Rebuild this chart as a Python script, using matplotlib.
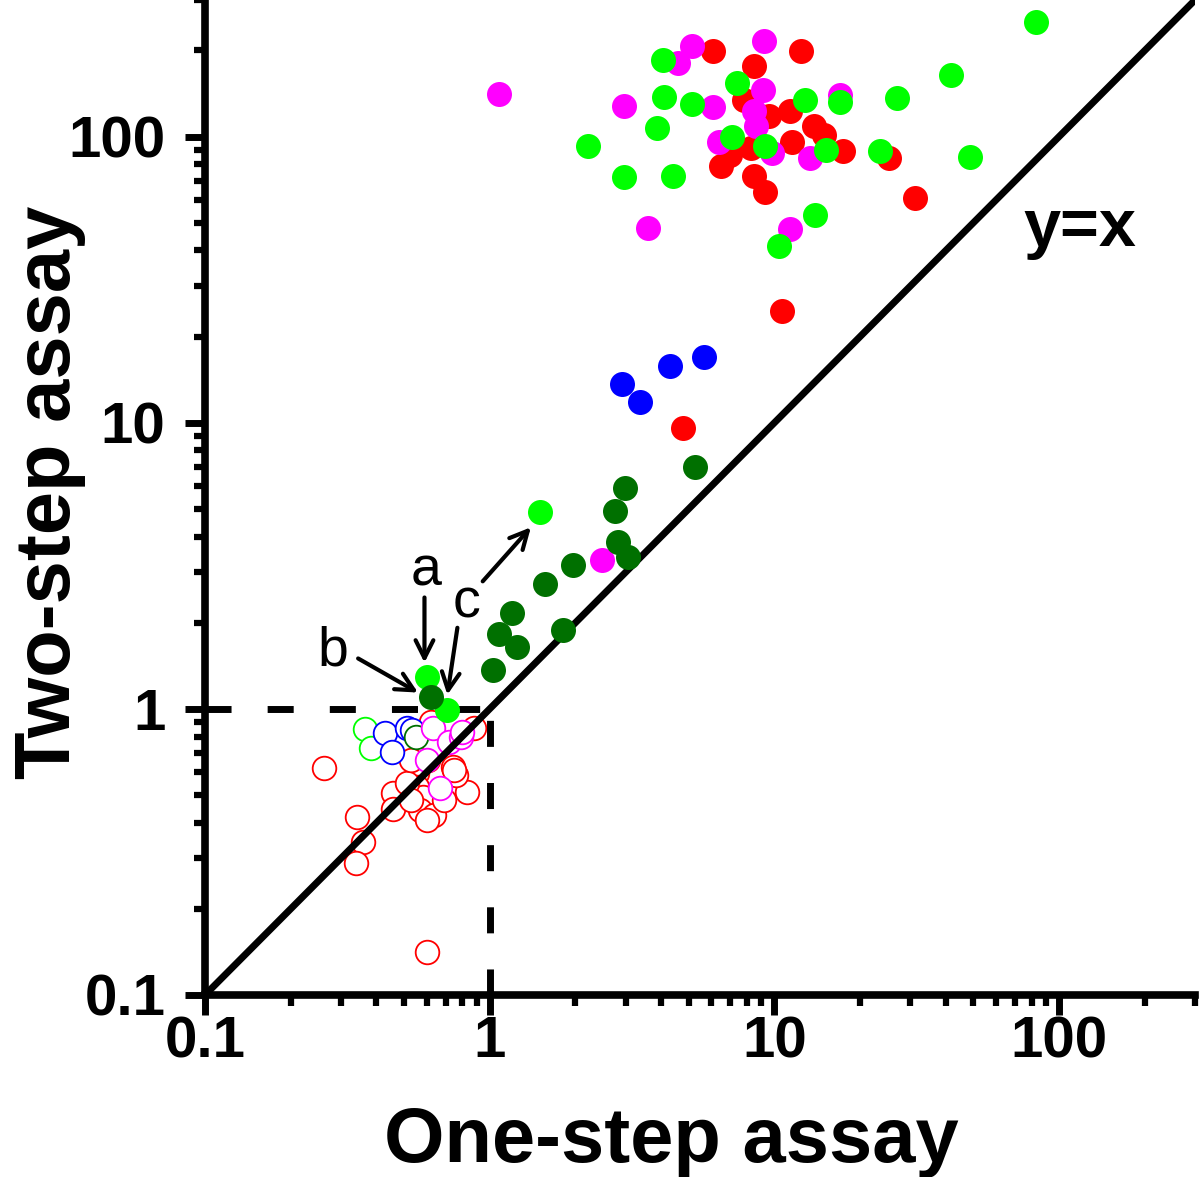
import numpy as np
import matplotlib.pyplot as plt
from matplotlib.ticker import FixedLocator, NullFormatter, FixedFormatter

plt.rcParams['font.family'] = ['Liberation Sans', 'DejaVu Sans']

# filled circles (one-step, two-step)
red_x = [6.1, 12.4, 8.45, 7.8, 9.6, 11.3, 13.8, 14.9, 11.5, 17.4, 25.3, 6.5, 6.96, 8.3, 8.5, 9.25, 10.6, 31.2, 4.79]
red_y = [199, 199, 177, 134, 118, 123, 109, 101, 96, 89, 84, 79, 86, 91, 72.6, 64, 24.6, 60.8, 9.58]

magenta_x = [1.08, 5.15, 4.6, 9.2, 2.97, 6.06, 9.1, 8.5, 8.6, 6.4, 9.8, 13.3, 17.0, 3.6, 11.3, 2.48]
magenta_y = [141, 207, 181, 216, 128, 127, 145, 123, 109, 96, 87.5, 84, 140, 48, 47.7, 3.3]

green_x = [4.07, 82.7, 41.8, 27.0, 48.8, 23.5, 4.1, 5.15, 3.88, 2.22, 2.97, 4.42, 7.36, 12.8, 17.0,
           7.07, 9.3, 15.2, 13.9, 10.4, 1.50, 0.60, 0.71]
green_y = [185, 252, 164, 136, 85, 89, 137, 130, 107, 92.5, 72, 72.6, 154, 134, 132,
           100, 93, 90, 53, 41.3, 4.86, 1.29, 0.99]

dkgreen_x = [0.62, 1.03, 1.08, 1.2, 1.25, 1.81, 1.56, 1.96, 2.83, 3.07, 2.76, 2.99, 5.24]
dkgreen_y = [1.10, 1.37, 1.83, 2.17, 1.65, 1.88, 2.72, 3.17, 3.82, 3.38, 4.9, 5.9, 7.0]

blue_x = [2.92, 3.38, 4.31, 5.68]
blue_y = [13.7, 11.8, 15.8, 17.0]

# open circles
red_open_x = [0.262, 0.343, 0.36, 0.34, 0.60, 0.459, 0.459, 0.83, 0.878, 0.62, 0.605, 0.557, 0.746,
              0.76, 0.557, 0.585, 0.57, 0.635, 0.514, 0.689, 0.527, 0.635, 0.60, 0.527, 0.75]
red_open_y = [0.62, 0.418, 0.342, 0.289, 0.141, 0.508, 0.446, 0.512, 0.858, 0.90, 0.663, 0.597, 0.626,
              0.587, 0.533, 0.492, 0.443, 0.425, 0.55, 0.48, 0.663, 0.748, 0.408, 0.48, 0.61]
green_open_x = [0.366, 0.384]
green_open_y = [0.85, 0.73]
blue_open_x = [0.43, 0.455, 0.514, 0.535]
blue_open_y = [0.824, 0.707, 0.858, 0.845]
dkgreen_open_x = [0.55]
dkgreen_open_y = [0.80]
magenta_open_x = [0.63, 0.717, 0.79, 0.80, 0.60, 0.67]
magenta_open_y = [0.858, 0.766, 0.80, 0.83, 0.66, 0.53]

ticks = [0.1, 1, 10, 100]
tick_labels = ['0.1', '1', '10', '100']
lim = (0.1, 300)

RED, MAG, GRN, DKG, BLU = '#ff0000', '#ff00ff', '#00ff00', '#007000', '#0000ff'

fig = plt.figure(figsize=(12, 11.77), dpi=100)
ax = fig.add_axes([205 / 1200, 1 - 995 / 1177, 990 / 1200, 995 / 1177])
ax.set_xscale('log')
ax.set_yscale('log')
ax.set_xlim(lim)
ax.set_ylim(lim)

# open symbols sit below the diagonal line
s_open = 17 ** 2
for xs, ys, c in [(red_open_x, red_open_y, RED), (green_open_x, green_open_y, GRN),
                  (blue_open_x, blue_open_y, BLU), (dkgreen_open_x, dkgreen_open_y, DKG),
                  (magenta_open_x, magenta_open_y, MAG)]:
    ax.scatter(xs, ys, s=s_open, facecolors='white', edgecolors=c, linewidths=1.3, zorder=2)

ax.plot(lim, lim, color='k', lw=5, zorder=3, solid_capstyle='butt')
ax.plot([0.1, 1], [1, 1], color='k', lw=5, ls=(0, (3.75, 5.2)), zorder=3)
ax.plot([1, 1], [0.1, 1], color='k', lw=5, ls=(0, (3.75, 5.2)), zorder=3)

s_fill = 18 ** 2
for xs, ys, c in [(red_x, red_y, RED), (magenta_x, magenta_y, MAG), (blue_x, blue_y, BLU),
                  (green_x, green_y, GRN), (dkgreen_x, dkgreen_y, DKG)]:
    ax.scatter(xs, ys, s=s_fill, color=c, linewidths=0, zorder=4)

arrow = dict(arrowstyle='->', lw=3, color='k', mutation_scale=32, shrinkA=0, shrinkB=0)
ax.annotate('', xy=(0.59, 1.45), xytext=(0.59, 2.45), arrowprops=arrow)
ax.annotate('', xy=(0.56, 1.14), xytext=(0.345, 1.5), arrowprops=arrow)
ax.annotate('', xy=(0.71, 1.12), xytext=(0.77, 1.92), arrowprops=arrow)
ax.annotate('', xy=(1.395, 4.31), xytext=(0.945, 2.79), arrowprops=arrow)
ax.text(0.60, 3.02, 'a', fontsize=40, ha='center', va='center')
ax.text(0.282, 1.58, 'b', fontsize=40, ha='center', va='center')
ax.text(0.83, 2.33, 'c', fontsize=40, ha='center', va='center')
ax.text(118, 47.7, 'y=x', fontsize=48, fontweight='bold', ha='center', va='center')

for side in ['top', 'right']:
    ax.spines[side].set_visible(False)
for side in ['left', 'bottom']:
    ax.spines[side].set_linewidth(5.5)

for axis in (ax.xaxis, ax.yaxis):
    axis.set_major_locator(FixedLocator(ticks))
    axis.set_major_formatter(FixedFormatter(tick_labels))
    axis.set_minor_locator(FixedLocator([m * 10.0 ** e for e in range(-1, 3) for m in range(2, 10)
                                         if m * 10.0 ** e <= 300]))
    axis.set_minor_formatter(NullFormatter())
ax.tick_params(which='major', direction='out', length=14.5, width=5, labelsize=42)
ax.tick_params(which='minor', direction='out', length=8, width=4.5)
ax.tick_params(axis='x', which='major', pad=0)
ax.tick_params(axis='y', which='major', pad=14)
for lab in ax.get_xticklabels() + ax.get_yticklabels():
    lab.set_fontweight('bold')

fig.text(671 / 1200, 1 - 1162 / 1177, 'One-step assay', fontsize=56, fontweight='bold',
         ha='center', va='baseline')
fig.text(50 / 1200, 1 - 492 / 1177, 'Two-step assay', fontsize=56, fontweight='bold',
         ha='center', va='center', rotation=90)

fig.savefig('out.png', dpi=100)
